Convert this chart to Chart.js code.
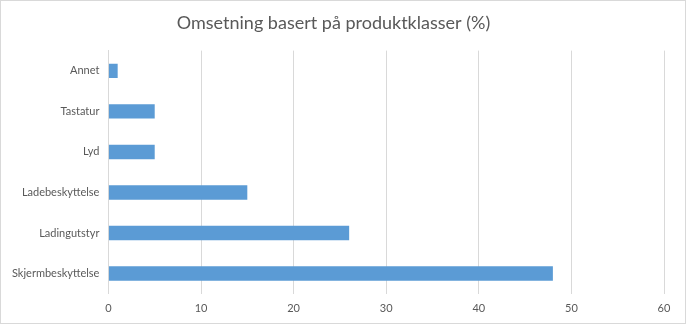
<!DOCTYPE html>
<html>
<head>
<meta charset="utf-8">
<script src="https://cdn.jsdelivr.net/npm/chart.js@4"></script>
<style>
  html, body { margin: 0; padding: 0; background: #fff; }
  #wrap { position: relative; width: 684px; height: 322px; border: 1px solid #d9d9d9; }
</style>
</head>
<body>
<div id="wrap"><canvas id="chart"></canvas></div>
<script>
const categories = ['Annet', 'Tastatur', 'Lyd', 'Ladebeskyttelse', 'Ladingutstyr', 'Skjermbeskyttelse'];
const values = [1, 5, 5, 15, 26, 48];
const xTicks = [0, 10, 20, 30, 40, 50, 60];

document.addEventListener('DOMContentLoaded', function () {
    const ctx = document.getElementById('chart');
    new Chart(ctx, {
        type: 'bar',
        data: {
            labels: categories,
            datasets: [{
                data: values,
                backgroundColor: '#5b9bd5',
                borderWidth: 0,
                categoryPercentage: 1,
                barPercentage: 0.355
            }]
        },
        options: {
            indexAxis: 'y',
            responsive: true,
            maintainAspectRatio: false,
            animation: false,
            layout: { padding: { left: 2, right: 21, top: 7, bottom: 0 } },
            plugins: {
                legend: { display: false },
                tooltip: { enabled: false },
                title: {
                    display: true,
                    text: 'Omsetning basert på produktklasser (%)',
                    color: '#595959',
                    font: { family: 'Lato', size: 18, weight: 'normal' },
                    padding: { top: 4, bottom: 17 }
                }
            },
            scales: {
                x: {
                    min: 0,
                    max: 60,
                    afterBuildTicks: function (axis) {
                        axis.ticks = xTicks.map(function (v) { return { value: v }; });
                    },
                    grid: { color: '#d9d9d9', drawTicks: false },
                    border: { display: false },
                    ticks: {
                        color: '#595959',
                        font: { family: 'Lato', size: 11 },
                        padding: 8
                    }
                },
                y: {
                    grid: { display: false, drawTicks: false },
                    border: { display: true, color: '#d9d9d9' },
                    ticks: {
                        color: '#595959',
                        font: { family: 'Lato', size: 11 },
                        padding: 9
                    }
                }
            }
        }
    });
});
</script>
</body>
</html>
